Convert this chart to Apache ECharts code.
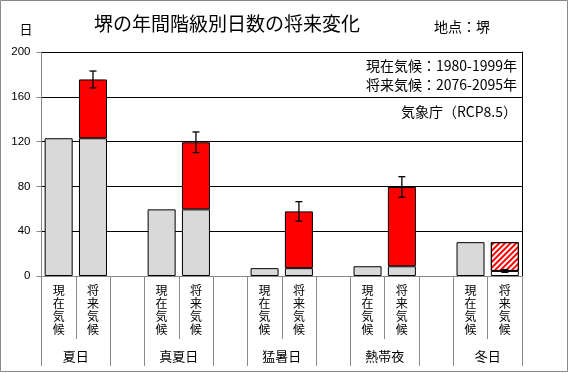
<!DOCTYPE html>
<html>
<head>
<meta charset="utf-8">
<script src="https://cdn.jsdelivr.net/npm/echarts@6/dist/echarts.min.js"></script>
<style>
html,body{margin:0;padding:0;background:#fff;}
#chart{width:569px;height:373px;}
</style>
</head>
<body>
<div id="chart"></div>
<script>
// ---- data ----
const groups = ['夏日', '真夏日', '猛暑日', '熱帯夜', '冬日'];
const periodLabels = ['現在気候', '将来気候'];
const currentDays = [123, 59.5, 7, 8.7, 30.2];
const futureDays = [175.5, 119.4, 57.7, 79.5, 4.5];
const futureErr = [7.5, 9.2, 8.7, 9.2, 1.2];
const yMin = 0, yMax = 200, yStep = 40;
const titleText = '堺の年間階級別日数の将来変化';
const placeText = '地点：堺';
const unitText = '日';
const noteLines = ['現在気候：1980-1999年', '将来気候：2076-2095年', '気象庁（RCP8.5）'];

// ---- build category slots ----
const slots = [];
const groupSlots = [''];
const baseData = [], upData = [], downData = [], errData = [];
groups.forEach((g, i) => {
  slots.push(periodLabels[0], periodLabels[1]);
  groupSlots.push(g, '');
  const c = currentDays[i], f = futureDays[i];
  baseData.push({ value: c, itemStyle: { color: '#d9d9d9' } });
  if (f >= c) {
    baseData.push({ value: c, itemStyle: { color: '#d9d9d9' } });
    upData.push('-', f - c);
    downData.push('-', '-');
  } else {
    baseData.push({ value: f, itemStyle: { color: '#ffffff' } });
    upData.push('-', '-');
    downData.push('-', c - f);
  }
  errData.push([slots.length - 1, f, futureErr[i]]);
  if (i < groups.length - 1) {
    slots.push('');
    groupSlots.push('');
    baseData.push('-'); upData.push('-'); downData.push('-');
  }
});

const CJK = '"Noto Sans CJK JP", "Noto Sans", sans-serif';
const gray = '#898989';

const chart = echarts.init(document.getElementById('chart'), null, { renderer: 'canvas' });
chart.setOption({
  animation: false,
  backgroundColor: '#ffffff',
  grid: { left: 41.5, right: 47, top: 52, bottom: 97, containLabel: false, outerBoundsMode: 'none' },
  xAxis: [
    {
      type: 'category', data: slots, position: 'bottom',
      axisLine: { show: true, lineStyle: { color: gray, width: 1 } },
      axisTick: { show: true, interval: 0, length: 63, lineStyle: { color: gray, width: 1 } },
      axisLabel: {
        interval: 0, margin: 8, fontFamily: CJK, fontSize: 12, lineHeight: 13, color: '#000',
        formatter: v => v.split('').join('\n')
      },
      splitLine: { show: false }
    },
    {
      type: 'category', data: groupSlots, position: 'bottom', boundaryGap: false,
      axisLine: { show: false },
      axisTick: { show: true, length: 90, interval: (i) => i % 3 !== 1, lineStyle: { color: gray, width: 1 } },
      axisLabel: { interval: 0, margin: 74, fontFamily: CJK, fontSize: 13, color: '#000' },
      splitLine: { show: false }
    }
  ],
  yAxis: [
    {
      type: 'value', min: yMin, max: yMax, interval: yStep,
      axisLine: { show: true, lineStyle: { color: gray, width: 1 } },
      axisTick: { show: true, length: 5, lineStyle: { color: gray } },
      axisLabel: { margin: 11, fontFamily: '"Liberation Sans", Arial, sans-serif', fontSize: 11.5, color: '#000' },
      splitLine: { show: true, lineStyle: { color: '#000', width: 1 } }
    },
    {
      type: 'value', min: yMin, max: yMax, interval: yStep, position: 'right',
      axisLine: { show: true, lineStyle: { color: '#000', width: 1 } },
      axisTick: { show: false }, axisLabel: { show: false }, splitLine: { show: false }
    }
  ],
  series: [
    {
      type: 'bar', stack: 'a', barWidth: 28, data: baseData,
      itemStyle: { borderColor: '#000', borderWidth: 1 }
    },
    {
      type: 'bar', stack: 'a', barWidth: 28, data: upData,
      itemStyle: { color: '#ff0000', borderColor: '#000', borderWidth: 1 }
    },
    {
      type: 'bar', stack: 'a', barWidth: 28, data: downData,
      itemStyle: {
        color: '#ffffff', borderColor: '#000', borderWidth: 1,
        decal: { symbol: 'rect', symbolSize: 1, color: '#ff0000', dashArrayX: [1, 0], dashArrayY: [1.5, 1.5], rotation: -Math.PI / 4 }
      }
    },
    {
      type: 'custom', data: errData, z: 10,
      encode: { x: 0, y: 1 },
      renderItem: function (params, api) {
        const x = api.value(0), v = api.value(1), e = api.value(2);
        const t = api.coord([x, v + e]);
        const b = api.coord([x, v - e]);
        const hw = 3.5;
        const st = { stroke: '#000', lineWidth: 1.3 };
        return {
          type: 'group', children: [
            { type: 'line', shape: { x1: t[0], y1: t[1], x2: b[0], y2: b[1] }, style: st },
            { type: 'line', shape: { x1: t[0] - hw, y1: t[1], x2: t[0] + hw, y2: t[1] }, style: st },
            { type: 'line', shape: { x1: b[0] - hw, y1: b[1], x2: b[0] + hw, y2: b[1] }, style: st }
          ]
        };
      }
    }
  ],
  graphic: [
    { type: 'rect', shape: { x: 0.5, y: 0.5, width: 567, height: 371 }, style: { fill: 'none', stroke: '#888888', lineWidth: 1 }, silent: true },
    { type: 'text', x: 227, y: 24, style: { text: titleText, font: '19px ' + CJK, fill: '#000', textAlign: 'center', align: 'center', textVerticalAlign: 'middle', verticalAlign: 'middle' } },
    { type: 'text', x: 434, y: 27, style: { text: placeText, font: '14px ' + CJK, fill: '#000', textAlign: 'left', align: 'left', textVerticalAlign: 'middle', verticalAlign: 'middle' } },
    { type: 'text', x: 26, y: 29, style: { text: unitText, font: '13px ' + CJK, fill: '#000', textAlign: 'center', align: 'center', textVerticalAlign: 'middle', verticalAlign: 'middle' } },
    { type: 'text', x: 517, y: 66, style: { text: noteLines[0], font: '14px ' + CJK, fill: '#000', textAlign: 'right', align: 'right', textVerticalAlign: 'middle', verticalAlign: 'middle' } },
    { type: 'text', x: 517, y: 85, style: { text: noteLines[1], font: '14px ' + CJK, fill: '#000', textAlign: 'right', align: 'right', textVerticalAlign: 'middle', verticalAlign: 'middle' } },
    { type: 'text', x: 517, y: 112, style: { text: noteLines[2], font: '14px ' + CJK, fill: '#000', textAlign: 'right', align: 'right', textVerticalAlign: 'middle', verticalAlign: 'middle' } }
  ]
});
</script>
</body>
</html>
